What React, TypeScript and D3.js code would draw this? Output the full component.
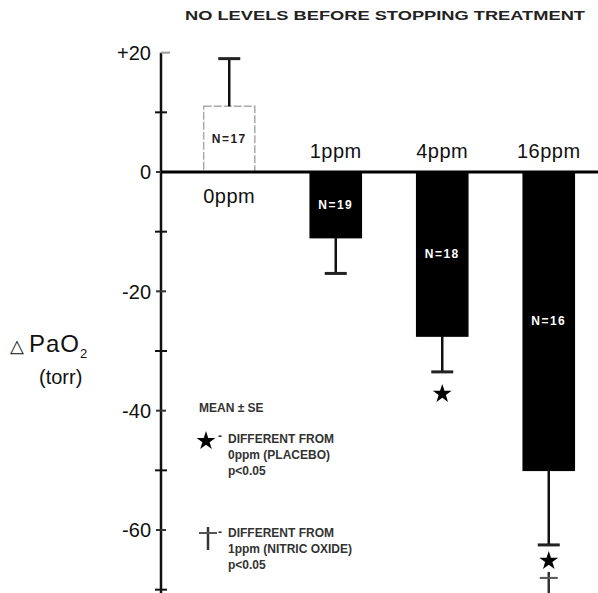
import * as d3 from "d3";
import { useEffect, useRef } from "react";

// данные с картинки
const categories = ["0ppm", "1ppm", "4ppm", "16ppm"];
const means = [11, -11, -27.5, -50];
const errors = [8, 6, 6, 12.5];
const nLabels = ["N=17", "N=19", "N=18", "N=16"];
const tickValues = [20, 0, -20, -40, -60];
const tickLabels = ["+20", "0", "-20", "-40", "-60"];
const minorTicks = [10, -10, -30, -50, -70];

const W = 598;
const H = 593;

const App = () => {
  const ref = useRef<SVGSVGElement>(null);

  useEffect(() => {
    const svg = d3.select(ref.current);
    svg.selectAll("*").remove();
    const font = "'Liberation Sans', Arial, sans-serif";

    const y = d3.scaleLinear().domain([0, -60]).range([172, 530]);
    const x = d3
      .scaleBand()
      .domain(categories)
      .range([176, 602])
      .paddingInner(0.52)
      .paddingOuter(0.26);
    const axisX = 161;

    // заголовок
    svg.append("text")
      .attr("x", 185).attr("y", 20)
      .attr("textLength", 400)
      .attr("lengthAdjust", "spacingAndGlyphs")
      .attr("font-family", font).attr("font-size", 13).attr("font-weight", "bold")
      .attr("fill", "#222")
      .text("NO LEVELS BEFORE STOPPING TREATMENT");

    // ось Y
    svg.append("line")
      .attr("x1", axisX).attr("x2", axisX)
      .attr("y1", y(20)).attr("y2", H)
      .attr("stroke", "#111").attr("stroke-width", 2.5);
    svg.append("line")
      .attr("x1", axisX).attr("x2", axisX + 9)
      .attr("y1", y(20)).attr("y2", y(20))
      .attr("stroke", "#999").attr("stroke-width", 2);

    svg.selectAll(".minor")
      .data(minorTicks)
      .enter()
      .append("line")
      .attr("x1", axisX - 6).attr("x2", axisX + 6)
      .attr("y1", d => y(d)).attr("y2", d => y(d))
      .attr("stroke", "#111").attr("stroke-width", 2);

    svg.selectAll(".major")
      .data(tickValues.filter(d => d < 20))
      .enter()
      .append("line")
      .attr("x1", axisX - 5).attr("x2", axisX + 5)
      .attr("y1", d => y(d)).attr("y2", d => y(d))
      .attr("stroke", "#333").attr("stroke-width", 2);

    svg.selectAll(".tlabel")
      .data(tickValues)
      .enter()
      .append("text")
      .attr("x", axisX - 10)
      .attr("y", d => y(d))
      .attr("dy", "0.36em")
      .attr("text-anchor", "end")
      .attr("font-family", font).attr("font-size", 20)
      .attr("fill", "#111")
      .text((d, i) => tickLabels[i]);

    // подпись оси
    const yl = svg.append("text")
      .attr("x", 10).attr("y", 352)
      .attr("font-family", font).attr("font-size", 24).attr("fill", "#111");
    yl.append("tspan").attr("font-size", 18).text("\u25B3 ");
    yl.append("tspan").attr("letter-spacing", 1).text("PaO");
    yl.append("tspan").attr("font-size", 13).attr("dy", 6).text("2");
    svg.append("text")
      .attr("x", 39).attr("y", 384)
      .attr("font-family", font).attr("font-size", 20).attr("fill", "#111")
      .text("(torr)");

    // столбцы
    svg.selectAll(".bar")
      .data(means)
      .enter()
      .append("rect")
      .attr("x", (d, i) => x(categories[i])!)
      .attr("width", x.bandwidth())
      .attr("y", d => Math.min(y(d), y(0)))
      .attr("height", d => Math.abs(y(d) - y(0)))
      .attr("fill", d => (d > 0 ? "#fff" : "#000"))
      .attr("stroke", d => (d > 0 ? "#aaa" : "#000"))
      .attr("stroke-width", 1.5)
      .attr("stroke-dasharray", d => (d > 0 ? "8,2" : null));

    // планки погрешностей
    const cx = (i: number) => x(categories[i])! + x.bandwidth() / 2;
    svg.selectAll(".err")
      .data(means)
      .enter()
      .append("line")
      .attr("x1", (d, i) => cx(i)).attr("x2", (d, i) => cx(i))
      .attr("y1", d => y(d))
      .attr("y2", (d, i) => y(d > 0 ? d + errors[i] : d - errors[i]))
      .attr("stroke", "#111").attr("stroke-width", 2.5);
    svg.selectAll(".cap")
      .data(means)
      .enter()
      .append("line")
      .attr("x1", (d, i) => cx(i) - 11).attr("x2", (d, i) => cx(i) + 11)
      .attr("y1", (d, i) => y(d > 0 ? d + errors[i] : d - errors[i]))
      .attr("y2", (d, i) => y(d > 0 ? d + errors[i] : d - errors[i]))
      .attr("stroke", "#222").attr("stroke-width", 3);

    // нулевая линия
    svg.append("line")
      .attr("x1", axisX).attr("x2", W)
      .attr("y1", y(0)).attr("y2", y(0))
      .attr("stroke", "#000").attr("stroke-width", 3);

    // N=
    svg.selectAll(".nlab")
      .data(means)
      .enter()
      .append("text")
      .attr("x", (d, i) => cx(i))
      .attr("y", d => y(d / 2))
      .attr("dy", "0.35em")
      .attr("text-anchor", "middle")
      .attr("font-family", font).attr("font-size", 12).attr("font-weight", "bold")
      .attr("letter-spacing", 1.5)
      .attr("fill", d => (d > 0 ? "#222" : "#fff"))
      .text((d, i) => nLabels[i]);

    // подписи категорий
    svg.selectAll(".clab")
      .data(means)
      .enter()
      .append("text")
      .attr("x", (d, i) => cx(i))
      .attr("y", d => (d > 0 ? y(0) + 31 : y(0) - 14))
      .attr("text-anchor", "middle")
      .attr("font-family", font).attr("font-size", 20)
      .attr("letter-spacing", 0.5)
      .attr("fill", "#111")
      .text((d, i) => categories[i]);

    // звёздочки и крестик
    const star = d3.symbol().type(d3.symbolStar).size(110);
    const drawStar = (px: number, py: number) =>
      svg.append("path").attr("d", star()!)
        .attr("transform", `translate(${px},${py})`)
        .attr("fill", "#000");
    const drawDagger = (px: number, py: number) => {
      svg.append("line").attr("x1", px).attr("x2", px)
        .attr("y1", py - 9).attr("y2", py + 14)
        .attr("stroke", "#333").attr("stroke-width", 2.5);
      svg.append("line").attr("x1", px - 9).attr("x2", px + 9)
        .attr("y1", py - 3).attr("y2", py - 3)
        .attr("stroke", "#555").attr("stroke-width", 2);
    };
    drawStar(cx(2), y(means[2] - errors[2]) + 22);
    drawStar(cx(3), y(means[3] - errors[3]) + 16);
    drawDagger(cx(3), y(means[3] - errors[3]) + 36);

    // легенда
    const leg = (t: string, lx: number, ly: number) =>
      svg.append("text").attr("x", lx).attr("y", ly)
        .attr("font-family", font).attr("font-size", 12).attr("font-weight", "bold")
        .attr("fill", "#333").text(t);
    leg("MEAN \u00B1 SE", 199, 412);
    drawStar(206, 441);
    leg("-", 218, 440);
    leg("DIFFERENT FROM", 228, 443);
    leg("0ppm (PLACEBO)", 228, 459);
    leg("p<0.05", 228, 475);
    drawDagger(208, 536);
    leg("-", 218, 536);
    leg("DIFFERENT FROM", 228, 537);
    leg("1ppm (NITRIC OXIDE)", 228, 553);
    leg("p<0.05", 228, 569);
  }, []);

  return (
    <svg
      ref={ref}
      width={W}
      height={H}
      style={{ position: "absolute", left: 0, top: 0, background: "#fff" }}
    />
  );
};

export default App;
